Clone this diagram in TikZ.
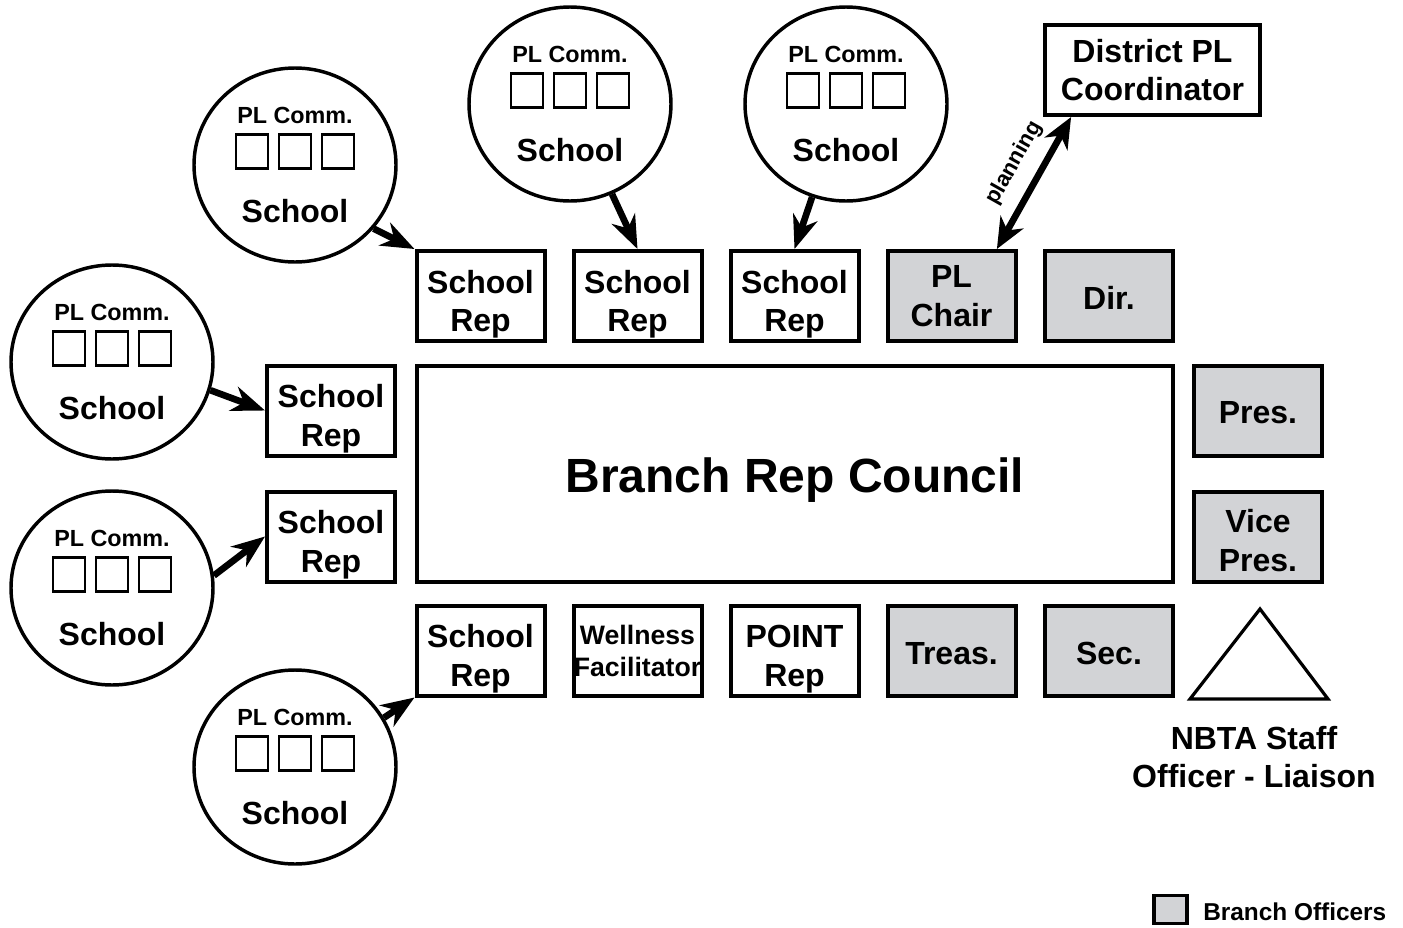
\documentclass[tikz,border=0pt]{standalone}
\usepackage{fontspec}
\setmainfont{Liberation Sans}
\usetikzlibrary{shapes.geometric,arrows.meta}
\definecolor{offgray}{RGB}{210,211,214}
\newcommand\schoolcirc[3]{%
\begin{scope}[shift={(#2,#3)}]
\node[schc] (#1) at (0,0) {};
\node[plcf] (#1pl) at (0,-50) {PL Comm.};
\node[sq] (#1a) at (-43,-13.5) {};
\node[sq] (#1b) at (0,-13.5) {};
\node[sq] (#1c) at (43,-13.5) {};
\node[schf] (#1s) at (0,46) {School};
\end{scope}}
\newcommand\lowr[1]{\rule{0pt}{#1}}
\begin{document}
\begin{tikzpicture}[x=0.75pt,y=-0.75pt,
  box/.style={draw, line width=3pt, minimum width=96pt, minimum height=67.5pt, inner sep=0pt, align=center, font=\fontsize{24}{29}\selectfont\bfseries},
  off/.style={box, fill=offgray},
  schc/.style={ellipse, draw, line width=2.6pt, minimum width=151.5pt, minimum height=145.5pt, inner sep=0pt},
  sq/.style={draw, line width=2.2pt, minimum width=24pt, minimum height=25.5pt, inner sep=0pt},
  plcf/.style={font=\fontsize{17.5}{20}\selectfont\bfseries, inner sep=0pt},
  schf/.style={font=\fontsize{24}{28}\selectfont\bfseries, inner sep=0pt},
  tip/.style={Stealth[length=25pt,width=19pt,inset=8pt]},
  arr/.style={line width=5pt, -{Stealth[length=25pt,width=19pt,inset=8pt]}},
  darr/.style={line width=5pt, {Stealth[length=23pt,width=19.5pt,inset=7pt]}-{Stealth[length=23pt,width=19.5pt,inset=7pt]}}
]
\useasboundingbox[fill=white] (0,0) rectangle (1403,928);

% main council
\node[draw, line width=3pt, minimum width=567pt, minimum height=162pt, inner sep=0pt,
  font=\fontsize{36}{42}\selectfont\bfseries] (brc) at (795,473.5) {\lowr{36pt}Branch Rep Council};

% top row
\node[box] (t1) at (480.5,296) {\lowr{29.5pt}School\\Rep};
\node[box] (t2) at (637.5,296) {\lowr{29.5pt}School\\Rep};
\node[box] (t3) at (794.5,296) {\lowr{29.5pt}School\\Rep};
\node[off] (pl) at (951.5,296) {PL\\Chair};
\node[off] (dir) at (1109,296) {\lowr{20pt}Dir.};

% left column
\node[box] (l1) at (331,410.5) {\lowr{29.5pt}School\\Rep};
\node[box] (l2) at (331,536.5) {\lowr{29.5pt}School\\Rep};

% right column
\node[off] (pres) at (1258,410.5) {\lowr{20pt}Pres.};
\node[off] (vp) at (1258,536.5) {\lowr{23pt}Vice\\Pres.};

% bottom row
\node[box] (b1) at (480.5,650.5) {\lowr{29.5pt}School\\Rep};
\node[box, font=\fontsize{20}{24}\selectfont\bfseries] (b2) at (637.5,650.5) {Wellness\\Facilitator};
\node[box] (b3) at (794.5,650.5) {\lowr{29.5pt}POINT\\Rep};
\node[off] (tr) at (951.5,650.5) {\lowr{21pt}Treas.};
\node[off] (sec) at (1109,650.5) {\lowr{21pt}Sec.};

% district
\node[box, minimum width=161.25pt] (dpl) at (1152.5,70) {District PL\\Coordinator};

% NBTA
\draw[line width=2.4pt, line join=miter] (1190,699) -- (1260,609) -- (1328,699) -- cycle;
\node[font=\fontsize{24}{28.5}\selectfont\bfseries, align=center, inner sep=0pt] (nbta) at (1254,757) {NBTA Staff\\Officer - Liaison};

% legend
\node[draw, fill=offgray, line width=2.6pt, minimum width=25pt, minimum height=21pt, inner sep=0pt] (leg) at (1170.5,909.5) {};
\node[anchor=west, font=\fontsize{18.3}{21}\selectfont\bfseries, inner sep=0pt] (legt) at (1203,912) {Branch Officers};

% school circles
\schoolcirc{c1}{295}{165}
\schoolcirc{c2}{570}{104}
\schoolcirc{c3}{846}{104}
\schoolcirc{c4}{112}{362}
\schoolcirc{c5}{112}{588}
\schoolcirc{c6}{295}{767}

% arrows
\draw[arr] (c1.-39) -- (t1.north west);
\draw[arr] (c2.-65.5) -- (t2.north);
\draw[arr] (c3.-110) -- (t3.north);
\draw[arr] (c4.-16.5) -- (l1.west);
\draw[arr] (c5.7) -- (l2.west);
\draw[arr] (c6.29) -- (b1.south west);

\draw[darr] (pl.46) -- node[pos=0.55, sloped, above=10pt, inner sep=0pt, font=\fontsize{16.5}{18}\selectfont\bfseries] (plan) {planning} (dpl.210);
\end{tikzpicture}
\end{document}
